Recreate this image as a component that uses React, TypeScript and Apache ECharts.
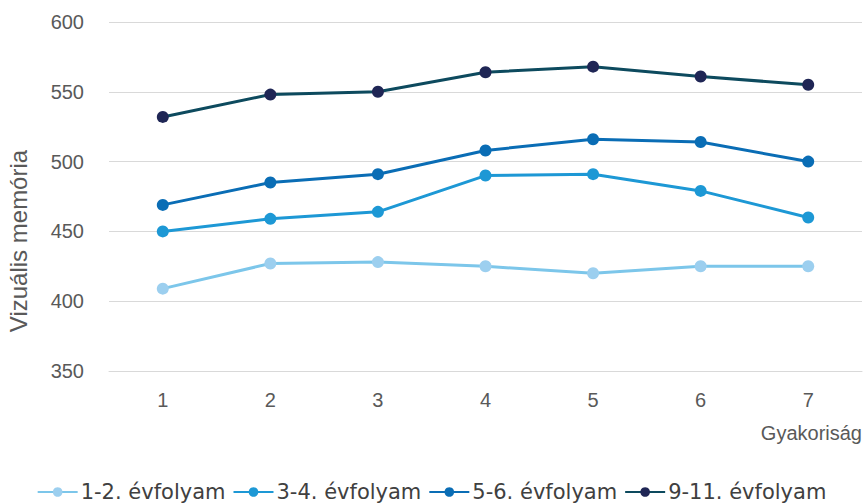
import React, { useEffect, useRef } from "react";
import * as echarts from "echarts";

const categories = ["1", "2", "3", "4", "5", "6", "7"];
const seriesNames = ["1-2. évfolyam", "3-4. évfolyam", "5-6. évfolyam", "9-11. évfolyam"];
const s12 = [409, 427, 428, 425, 420, 425, 425];
const s34 = [450, 459, 464, 490, 491, 479, 460];
const s56 = [469, 485, 491, 508, 516, 514, 500];
const s911 = [532, 548, 550, 564, 568, 561, 555];
const yTitle = "Vizuális memória";
const xTitle = "Gyakoriság";
const lineColors = ["#7cc6ea", "#1d98d5", "#0a6db5", "#0d4a5e"];
const markerColors = ["#9ccfef", "#1d98d5", "#0a6db5", "#1f2655"];

export default function App() {
  const ref = useRef<HTMLDivElement>(null);
  useEffect(() => {
    document.body.style.margin = "0";
    if (!ref.current) return;
    const chart = echarts.init(ref.current, null, { renderer: "svg" });
    const data = [s12, s34, s56, s911];
    chart.setOption({
      animation: false,
      textStyle: { fontFamily: "Liberation Sans, Arial, sans-serif" },
      grid: { left: 109, right: 1, top: 22, bottom: 133 },
      legend: {
        top: 480,
        left: "center",
        padding: 0,
        itemWidth: 40,
        itemHeight: 12,
        itemGap: 7,
        textStyle: { fontSize: 21, lineHeight: 24, color: "#404040", fontFamily: "DejaVu Sans, sans-serif", padding: [0, 0, 0, -2] },
        data: seriesNames,
      },
      xAxis: {
        type: "category",
        data: categories,
        axisLine: { show: true, lineStyle: { color: "#d9d9d9" } },
        axisTick: { show: false },
        axisLabel: { fontSize: 20, color: "#595959", margin: 19 },
      },
      yAxis: {
        type: "value",
        min: 350,
        max: 600,
        interval: 50,
        axisLine: { show: false },
        axisTick: { show: false },
        axisLabel: { fontSize: 20, color: "#595959", margin: 25 },
        splitLine: { lineStyle: { color: "#d9d9d9", width: 1 } },
      },
      graphic: [
        {
          type: "text",
          x: 18,
          y: 241,
          rotation: Math.PI / 2,
          style: {
            text: yTitle,
            fontSize: 24,
            fill: "#595959",
            align: "center",
            verticalAlign: "middle",
            fontFamily: "Liberation Sans, Arial, sans-serif",
          },
        },
        {
          type: "text",
          x: 862,
          y: 433,
          style: {
            text: xTitle,
            fontSize: 20,
            fill: "#595959",
            align: "right",
            verticalAlign: "middle",
            fontFamily: "Liberation Sans, Arial, sans-serif",
          },
        },
      ],
      series: seriesNames.map((name, i) => ({
        name,
        type: "line",
        data: data[i],
        symbol: "circle",
        symbolSize: 12,
        lineStyle: { width: 3, color: lineColors[i] },
        itemStyle: { color: markerColors[i] },
        color: lineColors[i],
      })),
    });
    return () => chart.dispose();
  }, []);
  return <div ref={ref} style={{ width: 863, height: 504 }} />;
}
